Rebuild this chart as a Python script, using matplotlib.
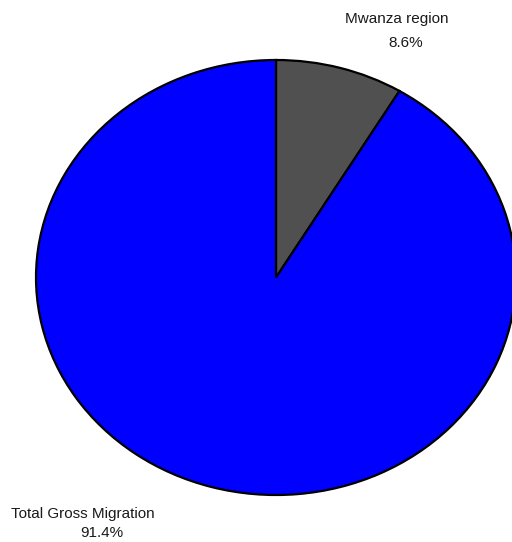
import matplotlib
matplotlib.use("Agg")
import matplotlib.pyplot as plt

# share of gross migration
labels = ["Mwanza region", "Total Gross Migration"]
shares = [8.6, 91.4]
colors = ["#505050", "#0000FF"]

W, H = 512, 542
plt.rcParams["font.family"] = ["Liberation Sans", "DejaVu Sans"]

fig = plt.figure(figsize=(W / 100, H / 100), dpi=100)
fig.patch.set_facecolor("white")

# pie drawn as an ellipse: axes box spans the pie's extent in pixels
left, right, top, bottom = 36, 516, 60, 495
ax = fig.add_axes([left / W, (H - bottom) / H, (right - left) / W, (bottom - top) / H])
ax.pie(shares, colors=colors, startangle=90, counterclock=False,
       wedgeprops=dict(edgecolor="black", linewidth=1.6), radius=1.0)
ax.set_aspect("auto")
ax.set_xlim(-1, 1)
ax.set_ylim(-1, 1)
ax.axis("off")
for p in ax.patches:
    p.set_clip_on(False)

# outside labels: (name x, name baseline, pct x, pct baseline) in pixels
label_pos = [(397, 23, 406, 47), (83, 518, 102, 537)]
for name, val, (nx, ny, px, py) in zip(labels, shares, label_pos):
    fig.text(nx / W, 1 - ny / H, name, ha="center", va="baseline", fontsize=11, color="#1a1a1a")
    fig.text(px / W, 1 - py / H, f"{val:.1f}%", ha="center", va="baseline",
             fontsize=11, color="#1a1a1a")

fig.savefig("out.png", dpi=100, facecolor="white")
